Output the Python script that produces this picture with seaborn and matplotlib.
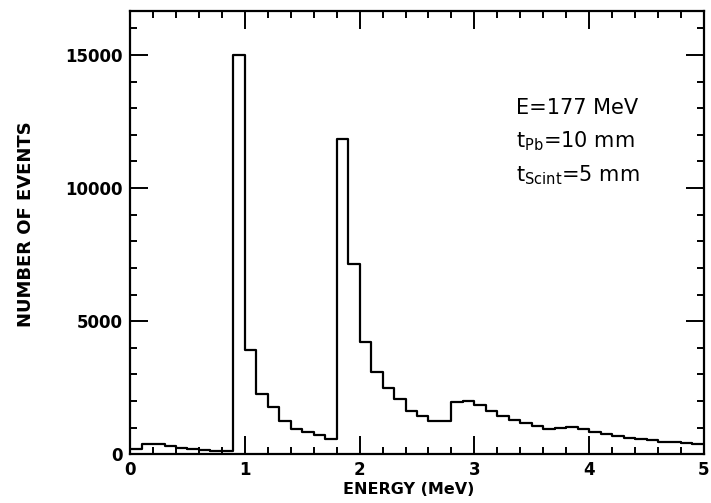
import numpy as np
import seaborn as sns
from matplotlib import pyplot as plt
import matplotlib.ticker as mtick

# Histogram: 0.1 MeV bins from 0 to 5 MeV
bin_edges = [round(0.1 * i, 1) for i in range(51)]
counts = [
    190, 400, 400, 310, 250, 190, 150, 115, 115, 15000,   # 0.0 - 1.0
    3930, 2280, 1770, 1250, 950, 840, 730, 580, 11850, 7150,  # 1.0 - 2.0
    4220, 3100, 2470, 2060, 1610, 1430, 1250, 1250, 1960, 2000,  # 2.0 - 3.0
    1840, 1620, 1450, 1270, 1160, 1060, 950, 1000, 1040, 950,  # 3.0 - 4.0
    850, 750, 700, 600, 575, 525, 475, 450, 425, 400,  # 4.0 - 5.0
]
bin_centers = [(a + b) / 2 for a, b in zip(bin_edges[:-1], bin_edges[1:])]

label_lines = ["E=177 MeV", r"t$_{\mathregular{Pb}}$=10 mm", r"t$_{\mathregular{Scint}}$=5 mm"]

sns.set_style("ticks")
plt.rcParams['font.family'] = ['DejaVu Sans']
plt.rcParams['text.color'] = 'black'
plt.rcParams['axes.labelcolor'] = 'black'

fig = plt.figure(figsize=(7.11, 5.03), dpi=100)
ax = fig.add_axes([0.183, 0.097, 0.807, 0.881])

sns.histplot(x=bin_centers, weights=counts, bins=bin_edges, element="step",
             fill=False, color="black", linewidth=1.6, ax=ax)

ax.set_xlim(0, 5)
ax.set_ylim(0, 16650)
ax.xaxis.set_major_locator(mtick.MultipleLocator(1))
ax.xaxis.set_minor_locator(mtick.MultipleLocator(0.2))
ax.yaxis.set_major_locator(mtick.MultipleLocator(5000))
ax.yaxis.set_minor_locator(mtick.MultipleLocator(1000))

ax.tick_params(which='both', direction='in', top=True, right=True, width=1.4,
               colors='black', labelcolor='black')
ax.tick_params(which='major', length=13, labelsize=12, pad=5)
ax.tick_params(which='minor', length=5)
for lab in ax.get_xticklabels() + ax.get_yticklabels():
    lab.set_fontweight('bold')
for sp in ax.spines.values():
    sp.set_linewidth(1.6)
    sp.set_color('black')

ax.set_xlabel("ENERGY (MeV)", fontsize=11.5, fontweight='bold')
ax.xaxis.set_label_coords(0.485, -0.062)
ax.set_ylabel("NUMBER OF EVENTS", fontsize=13, fontweight='bold')
ax.yaxis.set_label_coords(-0.165, 0.52)

for i, line in enumerate(label_lines):
    ax.text(3.36, 13020 - i * 1270, line, fontsize=15, va='center', ha='left')

fig.savefig("out.png", dpi=100)
